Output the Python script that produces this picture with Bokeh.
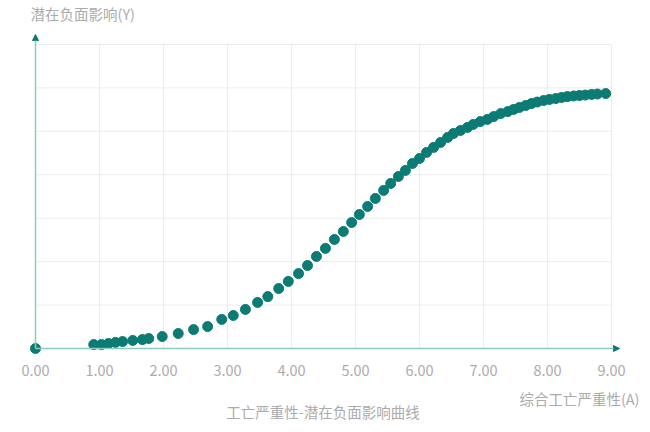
from bokeh.plotting import figure
from bokeh.models import Range1d, Label, Arrow, NormalHead, ColumnDataSource
from bokeh.core.properties import value
from bokeh.embed import file_html
from bokeh.resources import INLINE

# ---- data ----
x_vals = [0.00, 0.91, 1.03, 1.14, 1.25, 1.36, 1.52, 1.67, 1.77, 1.98, 2.23, 2.47, 2.69,
          2.91, 3.09, 3.28, 3.47, 3.63, 3.80, 3.95, 4.11, 4.25, 4.39, 4.53, 4.67, 4.81,
          4.94, 5.06, 5.19, 5.31, 5.44, 5.55, 5.67, 5.78, 5.89, 6.00, 6.11, 6.22, 6.33,
          6.44, 6.53, 6.64, 6.75, 6.84, 6.95, 7.06, 7.16, 7.27, 7.38, 7.47, 7.56, 7.66,
          7.75, 7.84, 7.94, 8.03, 8.13, 8.22, 8.31, 8.41, 8.50, 8.59, 8.69, 8.78, 8.91]
y_vals = [0.000, 0.018, 0.018, 0.023, 0.028, 0.032, 0.037, 0.041, 0.046, 0.055, 0.069,
          0.087, 0.101, 0.134, 0.152, 0.180, 0.212, 0.239, 0.276, 0.309, 0.345, 0.382,
          0.424, 0.461, 0.502, 0.539, 0.580, 0.617, 0.654, 0.691, 0.728, 0.760, 0.792,
          0.820, 0.852, 0.875, 0.903, 0.926, 0.949, 0.972, 0.990, 1.004, 1.018, 1.032,
          1.045, 1.055, 1.068, 1.082, 1.091, 1.101, 1.110, 1.119, 1.128, 1.135, 1.142,
          1.147, 1.151, 1.156, 1.160, 1.163, 1.165, 1.167, 1.170, 1.172, 1.174]
x_ticks = [0, 1, 2, 3, 4, 5, 6, 7, 8, 9]
x_tick_labels = ["0.00", "1.00", "2.00", "3.00", "4.00", "5.00", "6.00", "7.00", "8.00", "9.00"]
y_grid = [0.2, 0.4, 0.6, 0.8, 1.0, 1.2, 1.4]
y_title = "潜在负面影响(Y)"
x_title = "综合工亡严重性(A)"
chart_title = "工亡严重性-潜在负面影响曲线"

FONT = "Noto Sans CJK SC"
TEXT_COLOR = "#ababab"
POINT_COLOR = "#0b7b73"
AXIS_COLOR = "#8ccac4"
GRID_COLOR = "#ececec"

W, H = 650, 432
PX_X = 64.0      # pixels per x unit
PX_Y = 217.15    # pixels per y unit
X0_PX, Y0_PX = 35, 348

p = figure(width=W, height=H, output_backend="svg", toolbar_location=None,
           x_range=Range1d(-X0_PX / PX_X, (W - X0_PX) / PX_X),
           y_range=Range1d(-(H - Y0_PX) / PX_Y, Y0_PX / PX_Y),
           min_border=0)
p.outline_line_color = None
p.xgrid.visible = False
p.ygrid.visible = False
p.xaxis.visible = False
p.yaxis.visible = False

# grid lines
gx = x_ticks[1:]
p.segment(x0=gx, y0=[0] * len(gx), x1=gx, y1=[y_grid[-1]] * len(gx),
          line_color=GRID_COLOR, line_width=1)
p.segment(x0=[0] * len(y_grid), y0=y_grid, x1=[x_ticks[-1]] * len(y_grid), y1=y_grid,
          line_color=GRID_COLOR, line_width=1)

# axes with arrows
p.add_layout(Arrow(x_start=0, y_start=0, x_end=x_ticks[-1] + 8 / PX_X, y_end=0,
                   line_color=AXIS_COLOR, line_width=1.5,
                   end=NormalHead(size=6, fill_color=POINT_COLOR, line_color=POINT_COLOR)))
p.add_layout(Arrow(x_start=0, y_start=0, x_end=0, y_end=y_grid[-1] + 10 / PX_Y,
                   line_color=AXIS_COLOR, line_width=1.5,
                   end=NormalHead(size=6, fill_color=POINT_COLOR, line_color=POINT_COLOR)))

# x tick labels
p.text(x=x_ticks, y=[-21.5 / PX_Y] * len(x_ticks), text=x_tick_labels,
       text_font=value(FONT), text_font_size="14.5px", text_color=TEXT_COLOR,
       text_align="center", text_baseline="middle")

src = ColumnDataSource(dict(x=x_vals, y=y_vals))
p.scatter("x", "y", source=src, size=10, fill_color=POINT_COLOR, line_color=POINT_COLOR)

p.add_layout(Label(x=30, y=H - 13, x_units="screen", y_units="screen", text=y_title,
                   text_font=FONT, text_font_size="14.5px", text_color=TEXT_COLOR,
                   text_baseline="middle", text_align="left"))
p.add_layout(Label(x=639, y=H - 398, x_units="screen", y_units="screen", text=x_title,
                   text_font=FONT, text_font_size="14.5px", text_color=TEXT_COLOR,
                   text_baseline="middle", text_align="right"))
p.add_layout(Label(x=322.5, y=H - 411, x_units="screen", y_units="screen", text=chart_title,
                   text_font=FONT, text_font_size="14.5px", text_color=TEXT_COLOR,
                   text_baseline="middle", text_align="center"))

open("out.html", "w").write(file_html(p, INLINE))
